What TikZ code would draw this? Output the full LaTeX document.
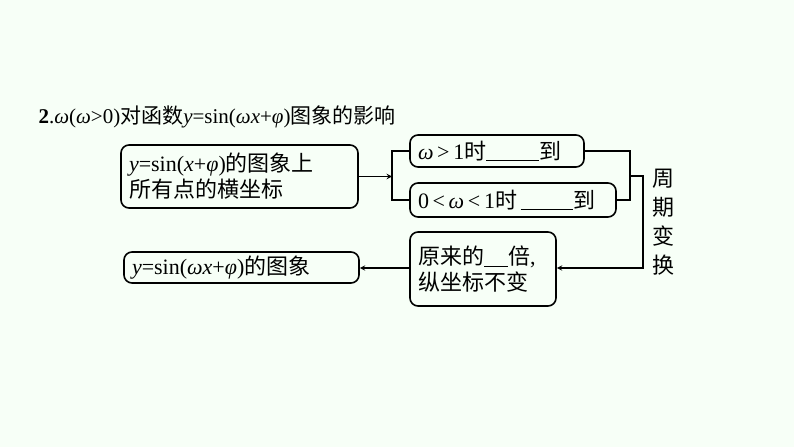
\documentclass[tikz,border=0pt]{standalone}
\usepackage{fontspec}
\setmainfont{Liberation Serif}
\newfontfamily\cjk{Noto Sans CJK SC}
\newcommand{\om}{\textit{ω}}
\newcommand{\ph}{\textit{φ}}
\begin{document}
\begin{tikzpicture}[x=1pt,y=-1pt,
  bx/.style={draw,line width=1.6pt,rounded corners=8pt,font=\fontsize{22}{26}\selectfont,align=left,inner xsep=8pt,inner ysep=0pt},
  ln/.style={line width=1.4pt},
  ar/.style={line width=1.4pt,-stealth}]
\fill[green!3!white] (0,0) rectangle (794,447);
\useasboundingbox (0,0) rectangle (794,447);
\node[anchor=west,font=\fontsize{21}{24}\selectfont] (t) at (35,117) {\textbf{2}.\om(\om>0){\cjk 对函数}\textit{y}=sin(\om\textit{x}+\ph){\cjk 图象的影响}};
\node[bx,minimum width=237pt,minimum height=63pt,text width=221pt] (a) at (239.5,176.5) {\textit{y}=sin(\textit{x}+\ph){\cjk 的图象上}\\{\cjk 所有点的横坐标}};
\node[bx,minimum width=174pt,minimum height=32pt,text width=158pt] (b) at (497,151) {\mbox{\om\,>\,1{\cjk 时}\underline{\hspace{2.4em}}{\cjk 到}}};
\node[bx,minimum width=206pt,minimum height=34pt,text width=190pt] (c) at (513,200) {\mbox{0\,<\,\om\,<\,1{\cjk 时}\,\underline{\hspace{2.4em}}{\cjk 到}}};
\node[bx,minimum width=146pt,minimum height=74pt,text width=130pt] (d) at (483,269) {{\cjk 原来的}\underline{\hspace{1.1em}}{\cjk 倍},\\{\cjk 纵坐标不变}};
\node[bx,minimum width=235pt,minimum height=31pt,text width=219pt] (e) at (241.5,267.5) {\mbox{\textit{y}=sin(\om\textit{x}+\ph){\cjk 的图象}}};
\coordinate (l1) at (392,151); \coordinate (l2) at (392,200); \coordinate (lm) at (392,176.5);
\draw[ln] (b.west) -- (l1) -- (l2) -- (c.west);
\draw[ar] (a.east) -- (lm);
\coordinate (r1) at (630,151); \coordinate (r2) at (630,200); \coordinate (rm) at (630,176);
\coordinate (rr) at (643,176); \coordinate (rb) at (643,268);
\draw[ln] (b.east) -- (r1) -- (r2) -- (c.east);
\draw[ar] (rm) -- (rr) -- (rb) -- (d.east|-rb);
\draw[ar] (d.west|-rb) -- (e.east|-rb);
\node[font=\fontsize{22}{29}\selectfont\cjk,align=center] (p) at (663,222) {周\\期\\变\\换};
\end{tikzpicture}
\end{document}
